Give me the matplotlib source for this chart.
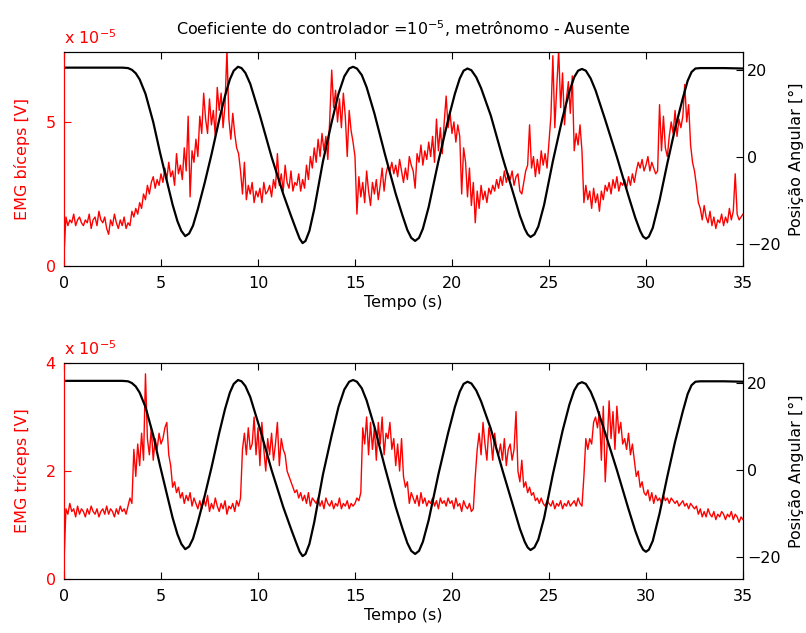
import numpy as np
import matplotlib
matplotlib.use('Agg')
import matplotlib.pyplot as plt

# angular position (degrees) at hand-picked times (s)
ang_t = [0, 3.0, 3.3, 3.5, 3.7, 3.9, 4.2, 4.6, 4.95, 5.3, 5.6, 5.85, 6.05, 6.25,
         6.45, 6.65, 6.9, 7.25, 7.6, 8.0, 8.3, 8.55, 8.75, 8.97, 9.15, 9.35, 9.6,
         10.1, 10.7, 11.3, 11.7, 11.95, 12.15, 12.3, 12.45, 12.65, 12.9, 13.35,
         13.8, 14.15, 14.45, 14.7, 14.9, 15.1, 15.35, 15.6, 16.0, 16.55, 17.1,
         17.45, 17.7, 17.9, 18.1, 18.3, 18.5, 18.8, 19.3, 19.8, 20.15, 20.4, 20.6,
         20.8, 21.0, 21.25, 21.5, 22.0, 22.6, 23.2, 23.5, 23.75, 23.9, 24.05,
         24.25, 24.45, 24.75, 25.2, 25.7, 26.05, 26.3, 26.5, 26.7, 26.9, 27.15,
         27.4, 27.9, 28.5, 29.1, 29.45, 29.7, 29.85, 30.0, 30.15, 30.35, 30.7,
         31.1, 31.5, 31.9, 32.15, 32.35, 32.55, 32.8, 34, 35]
ang_deg = [20.5, 20.5, 20.4, 20.0, 19.2, 17.8, 14.5, 8, 1, -5.5, -11, -14.8, -17,
           -18.2, -17.6, -15.8, -12, -6, 0.5, 8.5, 14, 17.8, 19.8, 20.7, 20.4, 19.3,
           16.8, 9.5, 0, -8.5, -13.5, -16.5, -18.8, -19.8, -19.3, -17, -12, -1, 8,
           14.5, 18.5, 20.3, 20.7, 20.3, 18.8, 16, 10, 0.5, -8.5, -13.5, -16.8,
           -18.6, -19.3, -18.6, -16.5, -11.5, -1, 8.5, 14.5, 18, 19.8, 20.3, 19.9,
           18.3, 15.8, 9.5, 0, -9, -13.5, -16.5, -17.8, -18.4, -17.8, -16, -11, -1,
           9, 15, 18.3, 19.8, 20.2, 19.8, 18, 15.3, 8.5, 0, -9, -14, -17, -18.3,
           -18.8, -18.3, -16.3, -10, -1.5, 6.5, 13.5, 17.5, 19.5, 20.3, 20.4, 20.4,
           20.3]

# EMG biceps (x 1e-5 V), one value every 0.1 s from 0 to 35 s
emg_biceps = [
    0.4, 1.7, 1.4, 1.6, 1.5, 1.8, 1.4, 1.6, 1.7, 1.5,
    1.4, 1.6, 1.5, 1.8, 1.3, 1.6, 1.7, 1.4, 1.9, 1.6,
    1.5, 1.7, 1.3, 1.1, 1.6, 1.4, 1.8, 1.5, 1.3, 1.6,
    1.4, 1.7, 1.3, 1.5, 1.4, 1.9, 1.7, 2.0, 1.8, 2.2,
    2.0, 2.5, 2.3, 2.8, 2.5, 2.9, 3.1, 2.7, 3.0, 2.8,
    3.2, 2.9, 3.4, 3.0, 3.6, 3.1, 3.3, 2.8, 3.9, 3.2,
    3.5, 3.0, 4.1, 3.3, 5.2, 2.4, 4.0, 3.6, 4.4, 3.8,
    5.2, 4.6, 6.0, 5.1, 4.6, 5.8, 4.9, 5.4, 4.5, 6.2,
    5.4, 6.0, 4.8, 5.6, 7.5, 5.1, 4.4, 5.3, 4.6, 4.1,
    3.9, 3.3, 2.5, 3.6, 2.3, 2.8, 2.5, 2.9, 2.2, 2.6,
    2.4, 2.7, 2.2, 2.9, 2.5, 2.6, 2.8, 2.4, 3.0, 2.7,
    3.9, 2.8, 3.2, 2.6, 3.5, 2.9, 2.7, 3.3, 2.6, 2.9,
    2.8, 3.2, 2.6, 3.0, 2.7, 3.5, 3.0, 3.8, 3.4, 4.1,
    3.6, 4.4, 3.8, 4.6, 4.0, 4.5, 3.7, 5.1, 6.8, 5.5,
    6.1, 5.0, 5.8, 4.8, 6.0, 5.2, 3.8, 5.4, 4.7, 4.3,
    3.8, 1.8, 3.1, 2.4, 2.9, 2.2, 3.3, 2.6, 2.1, 2.9,
    2.5, 3.0, 2.3, 2.8, 3.4, 2.6, 3.2, 3.5, 3.3, 3.6,
    3.2, 3.5, 3.1, 3.7, 3.3, 2.9, 3.4, 3.0, 3.8, 3.5,
    3.3, 2.7, 3.9, 3.6, 4.2, 3.5, 4.0, 3.7, 4.3, 3.8,
    4.5, 3.6, 5.1, 4.0, 4.8, 3.9, 5.0, 5.9, 4.8, 5.3,
    4.6, 5.0, 4.3, 4.9, 4.5, 2.5, 4.1, 3.6, 2.4, 3.4,
    2.1, 2.9, 1.5, 2.6, 2.0, 2.8, 2.3, 2.6, 2.2, 2.7,
    2.5, 2.8, 2.6, 3.0, 2.7, 3.1, 2.8, 3.3, 2.9, 3.2,
    3.0, 3.3, 2.8, 3.1, 3.2, 2.6, 2.5, 2.9, 3.3, 3.5,
    4.9, 3.4, 3.8, 3.1, 3.7, 3.2, 4.0, 3.5, 3.9, 3.4,
    4.3, 5.2, 7.3, 4.8, 6.2, 7.5, 5.5, 6.7, 4.9, 5.8,
    6.4, 5.3, 6.6, 4.0, 4.6, 4.2, 4.9, 4.0, 2.2, 2.8,
    2.3, 2.6, 2.0, 2.7, 2.2, 2.5, 1.9, 2.6, 2.3, 2.8,
    2.6, 2.9, 2.5, 3.0, 2.7, 3.1, 2.6, 2.9, 2.8, 3.0,
    2.7, 3.1, 2.8, 3.2, 2.9, 3.3, 3.6, 3.4, 3.7, 3.3,
    3.5, 3.8, 3.3, 3.6, 3.4, 3.2, 3.3, 5.6, 4.0, 5.2,
    4.1, 3.8, 4.5, 5.0, 4.6, 5.4, 4.5, 5.1, 4.8, 5.2,
    6.3, 5.0, 5.6, 4.2, 3.6, 3.3, 2.8, 2.2, 2.0, 1.6,
    2.1, 1.7, 1.5, 1.9, 1.4, 1.7, 1.3, 1.6, 1.5, 1.8,
    1.4, 1.7, 1.5, 2.0, 1.6, 1.9, 3.2, 1.8, 1.6, 1.7,
    1.8]

# EMG triceps (x 1e-5 V), one value every 0.1 s from 0 to 35 s
emg_triceps = [
    0.3, 1.3, 1.2, 1.4, 1.25, 1.3, 1.15, 1.35, 1.2, 1.3,
    1.25, 1.15, 1.3, 1.2, 1.35, 1.25, 1.2, 1.3, 1.15, 1.25,
    1.3, 1.2, 1.35, 1.2, 1.3, 1.25, 1.15, 1.3, 1.2, 1.35,
    1.25, 1.3, 1.2, 1.35, 1.5, 1.4, 2.4, 1.9, 2.5, 2.1,
    2.7, 2.2, 3.8, 2.6, 2.3, 2.8, 2.2, 2.6, 2.4, 2.7,
    2.5, 2.6, 2.8, 2.9, 2.3, 2.1, 1.7, 1.8, 1.6, 1.7,
    1.5, 1.6, 1.4, 1.55, 1.45, 1.6, 1.35, 1.5, 1.4, 1.3,
    1.45, 1.3, 1.5, 1.35, 1.55, 1.25, 1.4, 1.3, 1.5, 1.35,
    1.25, 1.4, 1.3, 1.45, 1.2, 1.35, 1.3, 1.4, 1.25, 1.45,
    1.35, 1.5, 2.4, 2.7, 2.3, 2.8, 2.4, 2.5, 3.0, 2.3,
    2.8, 2.1, 2.9, 2.4, 2.0, 2.6, 2.3, 2.7, 2.2, 2.5,
    2.9, 2.1, 2.6, 2.4, 2.3, 2.0, 1.9, 1.8, 1.7, 1.6,
    1.65, 1.5, 1.6, 1.45, 1.55, 1.4, 1.6, 1.35, 1.5, 1.45,
    1.4, 1.5, 1.35, 1.45, 1.3, 1.5, 1.4, 1.35, 1.45, 1.3,
    1.4, 1.35, 1.5, 1.3, 1.4, 1.35, 1.45, 1.3, 1.4, 1.35,
    1.4, 1.5, 1.45, 1.6, 2.8, 2.5, 3.0, 2.3, 2.9, 2.4,
    2.8, 2.2, 2.9, 2.5, 3.0, 2.3, 2.7, 2.6, 2.9, 2.4,
    2.6, 2.1, 2.5, 2.0, 2.6, 1.9, 1.7, 1.8, 1.4, 1.6,
    1.5, 1.4, 1.55, 1.35, 1.6, 1.4, 1.5, 1.35, 1.45, 1.4,
    1.5, 1.35, 1.45, 1.3, 1.5, 1.4, 1.45, 1.35, 1.5, 1.4,
    1.45, 1.3, 1.5, 1.35, 1.4, 1.25, 1.45, 1.35, 1.3, 1.4,
    1.25, 1.3, 1.9, 2.4, 2.7, 2.3, 2.9, 2.5, 2.2, 2.8,
    2.6, 2.2, 2.7, 2.4, 2.3, 2.5, 2.2, 2.6, 2.1, 2.4,
    2.5, 2.2, 2.4, 3.1, 2.0, 1.8, 2.2, 1.7, 1.8, 1.6,
    1.7, 1.55, 1.6, 1.45, 1.5, 1.4, 1.5, 1.4, 1.35, 1.45,
    1.4, 1.35, 1.45, 1.3, 1.4, 1.35, 1.45, 1.3, 1.4, 1.35,
    1.45, 1.35, 1.4, 1.45, 1.35, 1.5, 1.4, 1.35, 1.9, 2.6,
    2.4, 2.6, 2.5, 2.9, 3.0, 2.8, 3.1, 2.2, 3.2, 1.8,
    2.5, 3.3, 2.6, 3.1, 2.4, 3.2, 2.7, 2.9, 2.5, 2.6,
    2.4, 2.7, 2.3, 2.5, 2.2, 1.9, 2.0, 1.7, 1.8, 1.6,
    1.55, 1.65, 1.45, 1.6, 1.4, 1.55, 1.45, 1.5, 1.4, 1.55,
    1.45, 1.5, 1.4, 1.5, 1.45, 1.4, 1.45, 1.35, 1.4, 1.45,
    1.35, 1.4, 1.3, 1.4, 1.35, 1.3, 1.35, 1.2, 1.3, 1.15,
    1.25, 1.15, 1.3, 1.2, 1.15, 1.25, 1.1, 1.2, 1.15, 1.25,
    1.2, 1.1, 1.2, 1.15, 1.25, 1.1, 1.2, 1.15, 1.05, 1.15,
    1.1]

emg_t = np.arange(len(emg_biceps)) * 0.1

plt.rcParams['font.family'] = ['DejaVu Sans']
plt.rcParams['font.size'] = 11.5

fig = plt.figure(figsize=(8.06, 6.33), dpi=100)
ax_top = fig.add_axes([0.0794, 0.5798, 0.8424, 0.3381])
ax_bot = fig.add_axes([0.0794, 0.0853, 0.8424, 0.3412])

panels = [
    (ax_top, emg_biceps, 'EMG bíceps [V]', 7.43, [0, 5], 24.1),
    (ax_bot, emg_triceps, 'EMG tríceps [V]', 4.0, [0, 2, 4], 24.6),
]

for ax, emg, ylab, ytop, yticks, rtop in panels:
    ax.plot(emg_t, emg, color='red', lw=1.0)
    ax.set_xlim(0, 35)
    ax.set_ylim(0, ytop)
    ax.set_xticks(range(0, 36, 5))
    ax.set_yticks(yticks)
    ax.tick_params(axis='y', colors='red', direction='in', length=5, pad=6)
    ax.tick_params(axis='x', direction='in', length=5, top=True, pad=7)
    ax.spines['left'].set_color('red')
    ax.set_ylabel(ylab, color='red', labelpad=11)
    ax.set_xlabel('Tempo (s)', labelpad=3)
    ax.text(0, 1.025, r'x 10$^{-5}$', transform=ax.transAxes, color='red',
            fontsize=11.5, ha='left', va='bottom')

    ax2 = ax.twinx()
    ax2.plot(ang_t, ang_deg, color='black', lw=1.6)
    ax2.set_ylim(-25.06, rtop)
    ax2.set_yticks([-20, 0, 20])
    ax2.tick_params(axis='y', direction='in', length=5, pad=3)
    ax2.spines['left'].set_color('red')
    ax2.set_ylabel('Posição Angular [°]', labelpad=6)

ax_top.set_title('Coeficiente do controlador =10$^{-5}$, metrônomo - Ausente',
                 fontsize=11.5, pad=12)

fig.savefig('out.png', dpi=100)
